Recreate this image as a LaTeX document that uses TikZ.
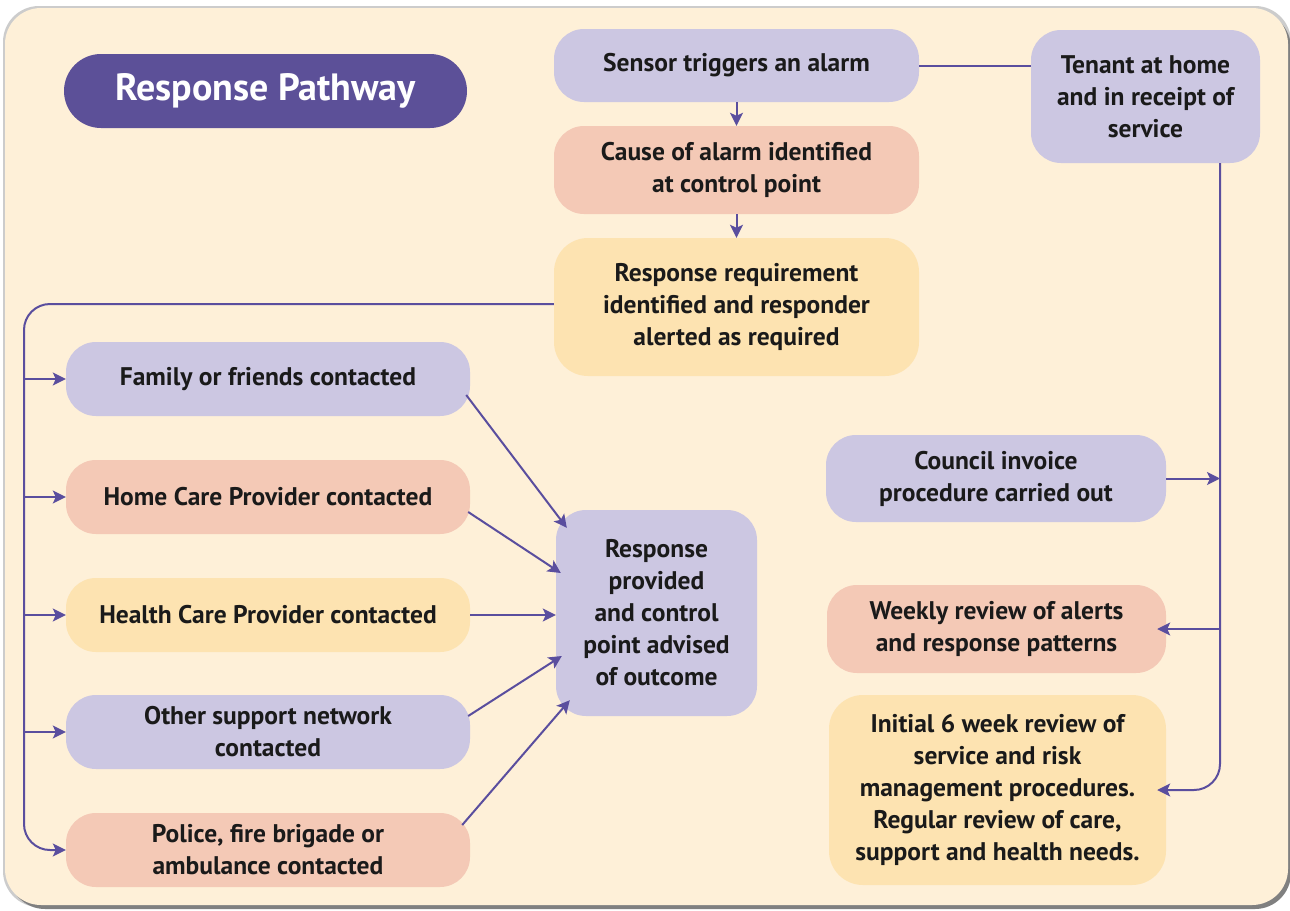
\documentclass[tikz,border=0pt]{standalone}
\usepackage{fontspec}
\setmainfont{PT Sans}
\usetikzlibrary{arrows.meta,calc}
\definecolor{panelfill}{HTML}{FEF0D8}
\definecolor{lavfill}{HTML}{CCC7E2}
\definecolor{salmonfill}{HTML}{F4C9B6}
\definecolor{yellowfill}{HTML}{FDE3B1}
\definecolor{titlefill}{HTML}{5C5098}
\definecolor{flowline}{HTML}{5A4E9E}
\definecolor{inkline}{HTML}{1A1A1A}
\tikzset{
  pill/.style={rectangle, rounded corners=30pt, align=center, text=inkline,
               font=\bfseries\fontsize{25.5}{32}\selectfont, inner sep=0pt},
  lav/.style={pill, fill=lavfill},
  salmon/.style={pill, fill=salmonfill},
  yellow/.style={pill, fill=yellowfill},
  flow/.style={-{Stealth[length=13pt, width=13pt, inset=3pt]}, line width=2pt, draw=flowline},
  bus/.style={line width=2pt, draw=flowline, rounded corners=26pt}
}

\begin{document}
\begin{tikzpicture}[x=1pt, y=-1pt]
\useasboundingbox (0,0) rectangle (1290,910);

%% Panel with its shadow
\fill[white] (0,0) rectangle (1290,910);
\fill[black!20, rounded corners=36pt] (3,6) rectangle (1291,907);
\fill[black!50, rounded corners=36pt] (9,12) rectangle (1291,909);
\fill[panelfill, rounded corners=36pt] (5,8) rectangle (1288,905);

%% Title
\node[pill, fill=titlefill, text=white, minimum width=403, minimum height=74,
      rounded corners=37pt, font=\bfseries\fontsize{38}{44}\selectfont] (title) at (265.5,91) {Response Pathway};

%% Alarm chain
\node[lav, minimum width=365, minimum height=73] (sensor) at (736.5,65.5) {Sensor triggers an alarm};
\node[salmon, minimum width=365, minimum height=88] (cause) at (736.5,170) {Cause of alarm identified\\at control point};
\node[yellow, minimum width=365, minimum height=138, rounded corners=34pt] (require) at (736.5,307)
  {Response requirement\\identified and responder\\alerted as required};
\node[lav, minimum width=229, minimum height=133] (tenant) at (1145.5,96.5) {Tenant at home\\and in receipt of\\service};

%% Contacts
\node[lav, minimum width=404, minimum height=74] (family) at (268,379) {Family or friends contacted};
\node[salmon, minimum width=404, minimum height=74] (homecare) at (268,497) {Home Care Provider contacted};
\node[yellow, minimum width=404, minimum height=74] (healthcare) at (268,615) {Health Care Provider contacted};
\node[lav, minimum width=404, minimum height=74] (othernet) at (268,732) {Other support network\\contacted};
\node[salmon, minimum width=404, minimum height=74] (police) at (268,850) {Police, fire brigade or\\ambulance contacted};
\node[lav, minimum width=201, minimum height=206] (provided) at (656.5,613)
  {Response\\provided\\and control\\point advised\\of outcome};

%% Review side
\node[lav, minimum width=340, minimum height=87] (invoice) at (996,478.5) {Council invoice\\procedure carried out};
\node[salmon, minimum width=339, minimum height=88] (weekly) at (996.5,629) {Weekly review of alerts\\and response patterns};
\node[yellow, minimum width=337, minimum height=190, rounded corners=34pt] (initial) at (997.5,790)
  {Initial 6 week review of\\service and risk\\management procedures.\\Regular review of care,\\support and health needs.};

%% Flow
% Alarm chain
\draw[flow] (sensor.south) -- (cause.north);
\draw[flow] (cause.south) -- (require.north);
\draw[line width=2pt, draw=flowline] (sensor.east) -- (sensor.east -| tenant.west);
% Left bus from requirement to the contacts
\coordinate (lbus) at (24,304);
\draw[flow, bus] (require.west |- lbus) -- (lbus) -- (lbus |- police.west) -- (police.west);
\draw[flow] (lbus |- family.west) -- (family.west);
\draw[flow] (lbus |- homecare.west) -- (homecare.west);
\draw[flow] (lbus |- healthcare.west) -- (healthcare.west);
\draw[flow] (lbus |- othernet.west) -- (othernet.west);
% Contacts into outcome
\draw[flow] ($(family.east)+(-4,16)$) -- ($(provided.north west)+(11,18)$);
\draw[flow] ($(homecare.east)+(-2,15)$) -- ($(provided.west)+(5,-40)$);
\draw[flow] (healthcare.east) -- (healthcare.east -| provided.west);
\draw[flow] ($(othernet.east)+(-2,-16)$) -- ($(provided.west)+(6,43)$);
\draw[flow] ($(police.east)+(-8,-25)$) -- ($(provided.south west)+(14,-16)$);
% Right bus from tenant to the reviews
\coordinate (rbus) at (1220,163);
\draw[flow, bus] (rbus) -- (rbus |- initial.east) -- ($(initial.east)+(-9,0)$);
\draw[flow] (invoice.east) -- (rbus |- invoice.east);
\draw[flow] (rbus |- weekly.east) -- ($(weekly.east)+(-9,0)$);

\end{tikzpicture}
\end{document}
